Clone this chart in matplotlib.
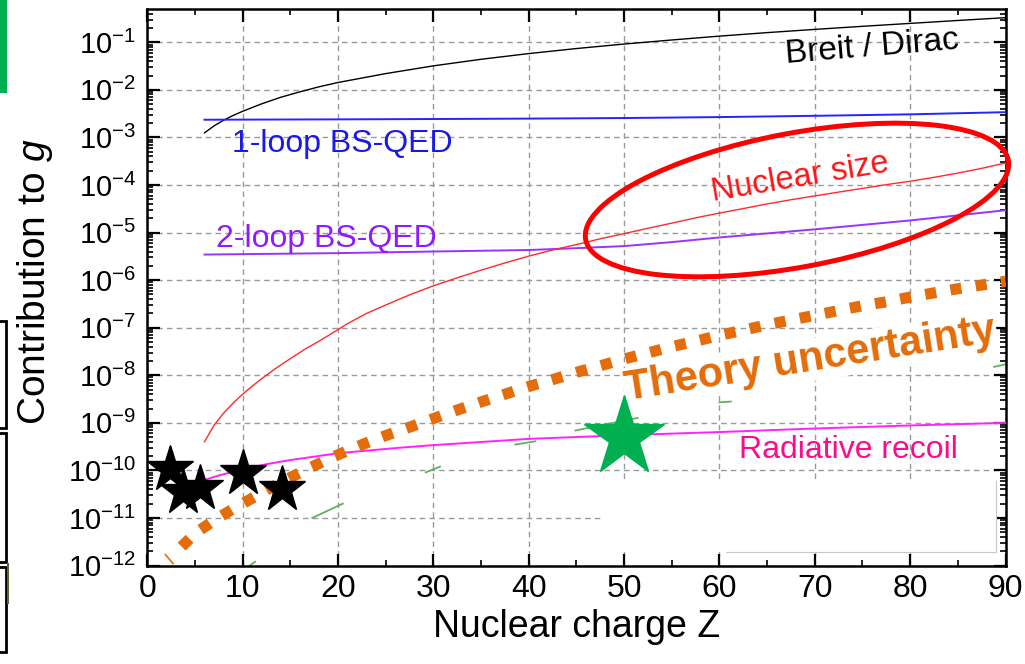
import numpy as np
import matplotlib
matplotlib.use("Agg")
import matplotlib.pyplot as plt
from matplotlib.patches import Ellipse, Rectangle
from matplotlib.ticker import LogLocator, MultipleLocator, NullFormatter

# values (Z, contribution to g)
breit_z = [6, 7, 8, 9, 10, 12, 14, 16, 18, 20, 25, 30, 35, 40, 45, 50, 55, 60,
           65, 70, 75, 80, 85, 90]
breit_g = [1.25e-3, 1.75e-3, 2.3e-3, 2.9e-3, 3.55e-3, 5.1e-3, 7.0e-3, 9.1e-3,
           1.16e-2, 1.43e-2, 2.2e-2, 3.2e-2, 4.4e-2, 5.8e-2, 7.4e-2, 9.2e-2,
           0.112, 0.135, 0.16, 0.187, 0.217, 0.25, 0.288, 0.33]

loop1_z = [6, 20, 30, 40, 50, 60, 70, 80, 90]
loop1_g = [2.36e-3, 2.4e-3, 2.44e-3, 2.49e-3, 2.56e-3, 2.68e-3, 2.85e-3, 3.06e-3, 3.4e-3]

loop2_z = [6, 20, 30, 40, 45, 50, 55, 60, 65, 70, 75, 80, 85, 90]
loop2_g = [3.45e-6, 3.7e-6, 4.0e-6, 4.3e-6, 4.7e-6, 5.2e-6, 6.3e-6, 7.9e-6,
           9.6e-6, 1.17e-5, 1.45e-5, 1.8e-5, 2.3e-5, 2.95e-5]

nucl_z = [6, 7, 8, 9, 10, 11, 12, 13.5, 15, 16.5, 18, 19.5, 21, 23, 25, 27.5,
          30, 32.5, 35, 37.5, 40, 42.5, 45, 47.5, 50, 52.5, 55, 57.5, 60, 62.5,
          65, 67.5, 70, 72.5, 75, 77.5, 80, 82.5, 85, 87.5, 90]
nucl_g = [4.0e-10, 8.9e-10, 1.6e-9, 2.6e-9, 4.0e-9, 5.9e-9, 8.5e-9, 1.41e-8,
          2.24e-8, 3.5e-8, 5.2e-8, 7.9e-8, 1.22e-7, 2.0e-7, 3.0e-7, 4.9e-7,
          7.6e-7, 1.12e-6, 1.62e-6, 2.3e-6, 3.2e-6, 4.3e-6, 5.6e-6, 7.4e-6,
          9.5e-6, 1.23e-5, 1.58e-5, 2.04e-5, 2.57e-5, 3.2e-5, 4.0e-5, 4.9e-5,
          5.9e-5, 7.1e-5, 8.5e-5, 1.02e-4, 1.2e-4, 1.45e-4, 1.78e-4, 2.24e-4, 2.9e-4]

recoil_z = [6, 7, 8, 9, 10, 12.5, 15, 20, 26.5, 30, 40, 50, 60, 70, 80, 90]
recoil_g = [6.3e-11, 7.3e-11, 8.3e-11, 9.4e-11, 1.05e-10, 1.35e-10, 1.65e-10,
            2.3e-10, 3.0e-10, 3.4e-10, 4.6e-10, 5.5e-10, 6.4e-10, 7.6e-10,
            8.8e-10, 1.0e-9]

unc_z = [3.6, 5, 7, 9, 11, 13, 15, 17, 19, 21, 23, 25, 27.5, 30, 32.5, 35, 37.5,
         40, 42.5, 45, 47.5, 50, 52.5, 55, 57.5, 60, 62.5, 65, 67.5, 70, 72.5,
         75, 77.5, 80, 82.5, 85, 87.5, 90]
unc_g = [2.5e-12, 4.7e-12, 8.9e-12, 1.55e-11, 2.6e-11, 4.4e-11, 7.1e-11, 1.12e-10,
         1.74e-10, 2.6e-10, 3.8e-10, 5.4e-10, 8.1e-10, 1.23e-9, 1.86e-9, 2.75e-9,
         4.0e-9, 5.8e-9, 8.1e-9, 1.15e-8, 1.58e-8, 2.2e-8, 2.95e-8, 4.0e-8,
         5.2e-8, 6.9e-8, 8.9e-8, 1.15e-7, 1.45e-7, 1.82e-7, 2.3e-7, 2.9e-7,
         3.5e-7, 4.4e-7, 5.4e-7, 6.6e-7, 7.9e-7, 9.5e-7]

# visible pieces of the partly hidden green dashed curve
green_z = [(10.6, 11.3), (17.3, 20.5), (29.2, 30.7), (38.6, 40.7), (44.9, 51.4),
           (60.0, 61.2), (88.8, 90.0)]
green_g = [(0.95e-12, 1.2e-12), (1.0e-11, 2.0e-11), (9.1e-11, 1.2e-10),
           (3.5e-10, 4.1e-10), (6.9e-10, 1.27e-9), (2.7e-9, 2.8e-9),
           (1.5e-8, 1.7e-8)]

orange_bit_z = [1.9, 2.7]
orange_bit_g = [1.7e-12, 1.1e-12]

stars_z = [2.4, 3.7, 5.5, 10.0, 14.1]
stars_g = [1.07e-10, 3.6e-11, 4.2e-11, 8.7e-11, 4.1e-11]
green_star_z = [50.0]
green_star_g = [5.1e-10]

plt.rcParams['font.family'] = ['Liberation Sans', 'DejaVu Sans']
plt.rcParams['mathtext.fontset'] = 'custom'
plt.rcParams['mathtext.rm'] = 'Liberation Sans'
plt.rcParams['mathtext.it'] = 'Liberation Sans:italic'
plt.rcParams['mathtext.default'] = 'regular'

fig = plt.figure(figsize=(10.25, 6.64), dpi=100)
ax = fig.add_axes([0.1437, 0.1483, 0.8373, 0.8374])
ax.set_yscale('log')
ax.set_xlim(0, 90)
ax.set_ylim(1e-12, 0.49)

ax.set_xticks(range(0, 91, 10))
ax.xaxis.set_minor_locator(MultipleLocator(5))
ax.set_yticks([10.0 ** e for e in range(-12, 0)])
ax.yaxis.set_minor_locator(LogLocator(base=10, subs=np.arange(2, 10), numticks=100))
ax.yaxis.set_minor_formatter(NullFormatter())
ax.tick_params(which='both', direction='in', top=True, right=True)
ax.tick_params(which='major', length=9, width=1.6)
ax.tick_params(which='minor', length=4.5, width=1.2)
ax.tick_params(axis='x', labelsize=23, pad=6)
ax.tick_params(axis='y', labelsize=21, pad=8)
for s in ax.spines.values():
    s.set_linewidth(1.8)

ax.set_axisbelow(True)
ax.grid(True, which='major', ls=(0, (4, 3)), color='#9a9a9a', lw=1.0)

# white cover over lower right
ax.add_patch(Rectangle((47.65, 1.9e-12), 89.05 - 47.65, 6.7e-11 - 1.9e-12,
                       facecolor='white', edgecolor='none', zorder=1))
ax.plot([60.7, 89.05, 89.05], [1.9e-12, 1.9e-12, 6.0e-11], color='#c8c8c8', lw=0.8, zorder=1.1)

for zz, gg in zip(green_z, green_g):
    ax.plot(zz, gg, color='#5db35d', lw=1.3, zorder=2)
ax.plot(orange_bit_z, orange_bit_g, color='#e46c0a', lw=1.2, zorder=2)

ax.plot(breit_z, breit_g, color='black', lw=1.0, zorder=3)
ax.plot(loop1_z, loop1_g, color='#2424ff', lw=1.4, zorder=3)
ax.plot(loop2_z, loop2_g, color='#9933ff', lw=1.4, zorder=3)
ax.plot(nucl_z, nucl_g, color='#ff2a2a', lw=1.0, zorder=3)
ax.plot(recoil_z, recoil_g, color='#ff22ff', lw=1.4, zorder=3)

ax.text(69.5, 2.09e-8, 'Theory uncertainty', color='#e46c0a', fontsize=30,
        fontweight='bold', rotation=9, rotation_mode='anchor', ha='center',
        va='center', zorder=3.5,
        bbox=dict(facecolor='white', edgecolor='none', pad=1))

ax.plot(unc_z, unc_g, color='#e46c0a', lw=8, ls=(0, (1, 1.3)), zorder=4)

ax.plot(stars_z, stars_g, '*', ms=35, color='black', mec='black', zorder=5)
ax.plot(green_star_z, green_star_g, '*', ms=60, color='#00b050', mec='#00b050', zorder=5)

ax.text(75.97, 0.078, 'Breit / Dirac', color='black', fontsize=24, rotation=4.7,
        rotation_mode='anchor', ha='center', va='center', zorder=6)
ax.text(8.88, 5.0e-4, '1-loop BS-QED', color='#1a1ae6', fontsize=23,
        ha='left', va='baseline', zorder=6)
ax.text(7.2, 5.0e-6, '2-loop BS-QED', color='#8f1aff', fontsize=23,
        ha='left', va='baseline', zorder=6)
ax.text(68.5, 1.45e-4, 'Nuclear size', color='#ff1414', fontsize=23.5, rotation=9.5,
        rotation_mode='anchor', ha='center', va='center', zorder=6)
ax.text(73.5, 1.8e-10, 'Radiative recoil', color='#ff0a8c', fontsize=23,
        ha='center', va='baseline', zorder=6)

ax.set_xlabel('Nuclear charge Z', fontsize=27, va='center')
ax.xaxis.set_label_coords(0.5, -0.11)
ax.set_ylabel('Contribution to $\\mathit{g}$', fontsize=28, va='center')
ax.yaxis.set_label_coords(-0.131, 0.511)

# red ellipse drawn around the nuclear size region (inches)
fig.add_artist(Ellipse((7.97, 4.64), 4.30, 1.34, angle=10.6, fill=False,
                       ec='#ff0000', lw=3.6, transform=fig.dpi_scale_trans))

# leftovers of neighbouring slide elements at the left edge
W, H = 1025.0, 664.0
fig.add_artist(Rectangle((-20 / W, 1 - 93 / H), 27 / W, 93 / H, facecolor='#00b050',
                         edgecolor='none', transform=fig.transFigure))
for y0, y1 in [(321, 428), (433, 562), (567, 652)]:
    fig.add_artist(Rectangle((-20 / W, 1 - y1 / H), 26 / W, (y1 - y0) / H, fill=False,
                             ec='black', lw=2, transform=fig.transFigure))
fig.add_artist(Rectangle((7 / W, 1 - 604 / H), 2 / W, 41 / H, facecolor='#556b2f',
                         edgecolor='none', transform=fig.transFigure))

fig.savefig('out.png', dpi=100)
